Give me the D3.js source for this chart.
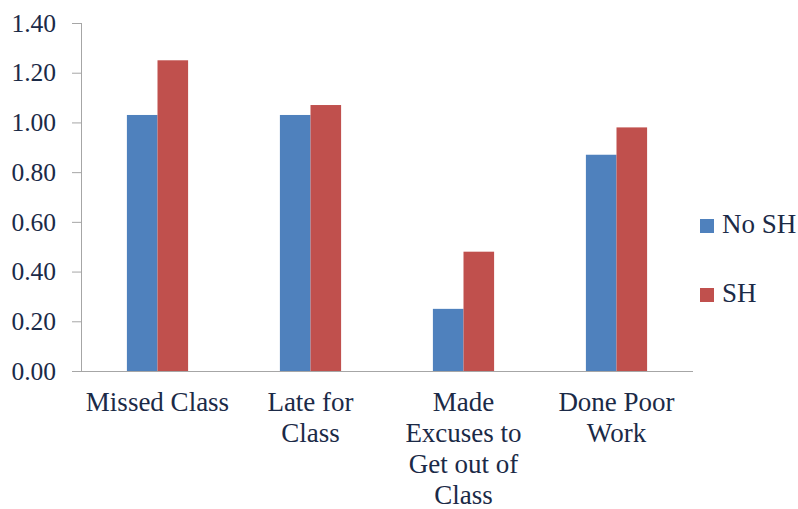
<!DOCTYPE html>
<html><head><meta charset="utf-8">
<script src="https://cdn.jsdelivr.net/npm/d3@7"></script>
<style>body{margin:0;background:#fff;font-family:"Liberation Serif"}svg{display:block}</style>
</head><body>
<svg id="c" width="798" height="509" font-family="Liberation Serif"></svg>
<script>
const categories = ["Missed Class", "Late for Class", "Made Excuses to Get out of Class", "Done Poor Work"];
const categoryLines = [["Missed Class"], ["Late for", "Class"], ["Made", "Excuses to", "Get out of", "Class"], ["Done Poor", "Work"]];
const seriesNames = ["No SH", "SH"];
const noSH = [1.03, 1.03, 0.25, 0.87];
const sh = [1.25, 1.07, 0.48, 0.98];
const colors = ["#4f81bd", "#c0504d"];
const yTicks = [0, 0.2, 0.4, 0.6, 0.8, 1.0, 1.2, 1.4];

(function () {
const svg = d3.select("#c");
const FF = "Liberation Serif";
const textColor = "#1b2a47";
const mLeft = 81, mRight = 693, mTop = 23, mBottom = 371;

const x = d3.scaleBand().domain(categories).range([mLeft, mRight]).paddingInner(0).paddingOuter(0);
const y = d3.scaleLinear().domain([0, 1.4]).range([mBottom, mTop]);
const xs = d3.scaleBand().domain(seriesNames).range([0, x.bandwidth()]).paddingInner(0).paddingOuter(1.5);

const data = [noSH, sh];

categories.forEach((c, i) => {
  seriesNames.forEach((s, j) => {
    svg.append("rect")
      .attr("x", x(c) + xs(s))
      .attr("y", y(data[j][i]))
      .attr("width", xs.bandwidth())
      .attr("height", y(0) - y(data[j][i]))
      .attr("fill", colors[j]);
  });
});

const yAxis = d3.axisLeft(y).tickValues(yTicks).tickFormat(d3.format(".2f")).tickSize(9).tickPadding(16);
const gy = svg.append("g").attr("transform", `translate(${mLeft},0)`).call(yAxis);
gy.attr("font-family", FF).attr("font-size", 25);
gy.select(".domain").attr("stroke", "#a6a6a6").attr("d", `M0.5,${mTop}V${mBottom}`);
gy.selectAll(".tick line").attr("stroke", "#a6a6a6");
gy.selectAll(".tick text").attr("font-family", FF).style("font-family", FF).style("font-size", "25.5px").attr("fill", textColor);

svg.append("line").attr("x1", mLeft - 9).attr("x2", mRight).attr("y1", mBottom + 0.5).attr("y2", mBottom + 0.5)
  .attr("stroke", "#a6a6a6");

categories.forEach((c, i) => {
  const cx = x(c) + x.bandwidth() / 2;
  const t = svg.append("text")
    .attr("x", cx).attr("y", 411)
    .attr("text-anchor", "middle")
    .attr("font-family", FF).style("font-family", FF).style("font-size", "27px").attr("fill", textColor);
  categoryLines[i].forEach((ln, k) => {
    t.append("tspan").attr("x", cx).attr("dy", k === 0 ? 0 : 31).attr("font-family", FF).text(ln);
  });
});

seriesNames.forEach((s, j) => {
  const ly = 219 + j * 69;
  svg.append("rect").attr("x", 700).attr("y", ly).attr("width", 14).attr("height", 14).attr("fill", colors[j]);
  svg.append("text").attr("x", 722).attr("y", ly + 14)
    .attr("font-family", FF).style("font-family", FF).style("font-size", "27px").attr("fill", textColor).text(s);
});
})();
</script>
</body></html>
